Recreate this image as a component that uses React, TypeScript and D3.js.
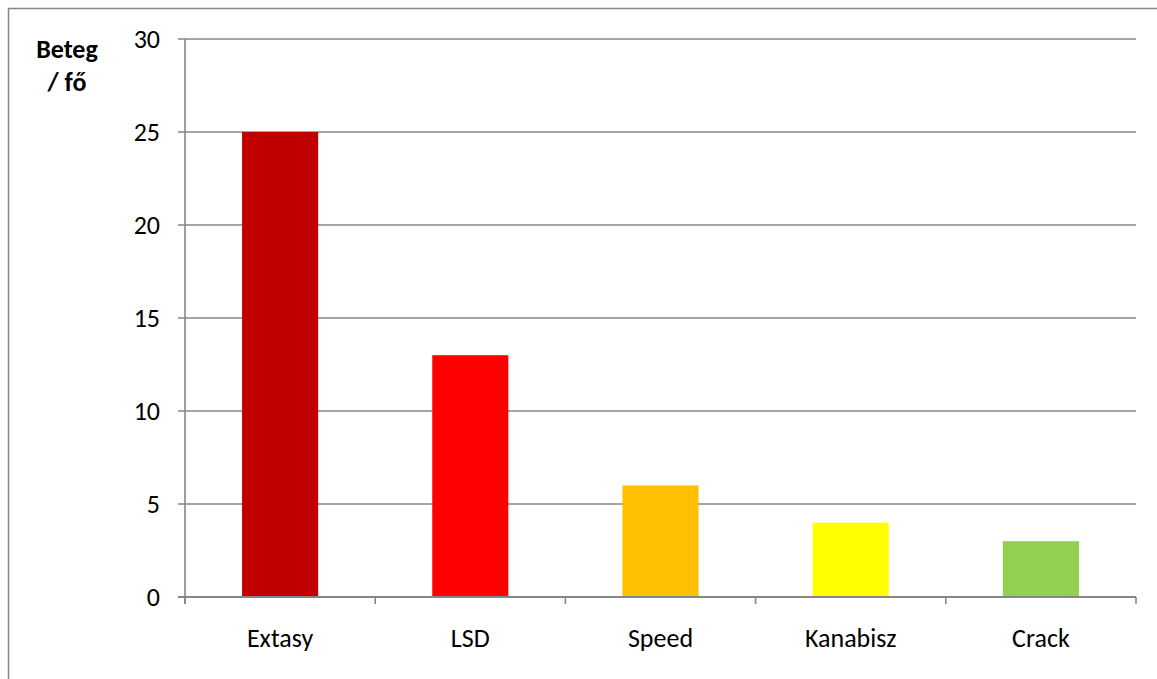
import React from "react";
import * as d3 from "d3";

const categories = ["Extasy", "LSD", "Speed", "Kanabisz", "Crack"];
const values = [25, 13, 6, 4, 3];
const barColors = ["#C00000", "#FF0000", "#FFC000", "#FFFF00", "#92D050"];
const yTicks = [0, 5, 10, 15, 20, 25, 30];
const axisTitle = ["Beteg", "/ fő"];

const W = 1157;
const H = 679;
const plot = { left: 185, right: 1136, top: 39, bottom: 597 };
const FONT = "Carlito, Calibri, Lato, sans-serif";
const GRID = "#868686";

export default function App() {
  const x = d3
    .scaleBand<string>()
    .domain(categories)
    .range([plot.left, plot.right])
    .paddingInner(0.6)
    .paddingOuter(0.3);
  const xCenter = (c: string) => (x(c) as number) + x.bandwidth() / 2;
  const y = d3.scaleLinear().domain([0, 30]).range([plot.bottom, plot.top]);
  const catEdges = d3
    .range(categories.length + 1)
    .map((i) => plot.left + i * ((plot.right - plot.left) / categories.length));

  return (
    <svg
      width={W}
      height={H}
      style={{ position: "absolute", left: 0, top: 0, background: "#fff" }}
    >
      {/* chart frame */}
      <rect x={8.5} y={8.5} width={W + 10} height={H + 10} fill="none" stroke={GRID} strokeWidth={1.5} />

      {/* horizontal gridlines */}
      {yTicks.map((t) => (
        <line key={t} x1={plot.left - 7} x2={plot.right} y1={y(t)} y2={y(t)} stroke={GRID} strokeWidth={1.6} />
      ))}

      {/* bars */}
      {categories.map((c, i) => (
        <rect
          key={c}
          x={x(c)}
          y={y(values[i])}
          width={x.bandwidth()}
          height={y(0) - y(values[i])}
          fill={barColors[i]}
        />
      ))}

      {/* axes */}
      <line x1={plot.left} x2={plot.left} y1={plot.top} y2={plot.bottom + 7} stroke={GRID} strokeWidth={1.6} />
      <line x1={plot.left - 7} x2={plot.right} y1={plot.bottom} y2={plot.bottom} stroke={GRID} strokeWidth={2} />
      {catEdges.map((e, i) => (
        <line key={i} x1={e} x2={e} y1={plot.bottom} y2={plot.bottom + 7} stroke={GRID} strokeWidth={1.6} />
      ))}

      {/* y tick labels */}
      {yTicks.map((t) => (
        <text
          key={t}
          x={160}
          y={y(t)}
          dy="0.36em"
          textAnchor="end"
          fontFamily={FONT}
          fontSize={26}
          fill="#000"
        >
          {t}
        </text>
      ))}

      {/* category labels */}
      {categories.map((c) => (
        <text
          key={c}
          x={xCenter(c)}
          y={647}
          textAnchor="middle"
          fontFamily={FONT}
          fontSize={26}
          fill="#000"
        >
          {c}
        </text>
      ))}

      {/* y axis title */}
      {axisTitle.map((s, i) => (
        <text
          key={s}
          x={67}
          y={58 + i * 33}
          textAnchor="middle"
          fontFamily={FONT}
          fontWeight="bold"
          fontSize={26}
          fill="#000"
        >
          {s}
        </text>
      ))}
    </svg>
  );
}
